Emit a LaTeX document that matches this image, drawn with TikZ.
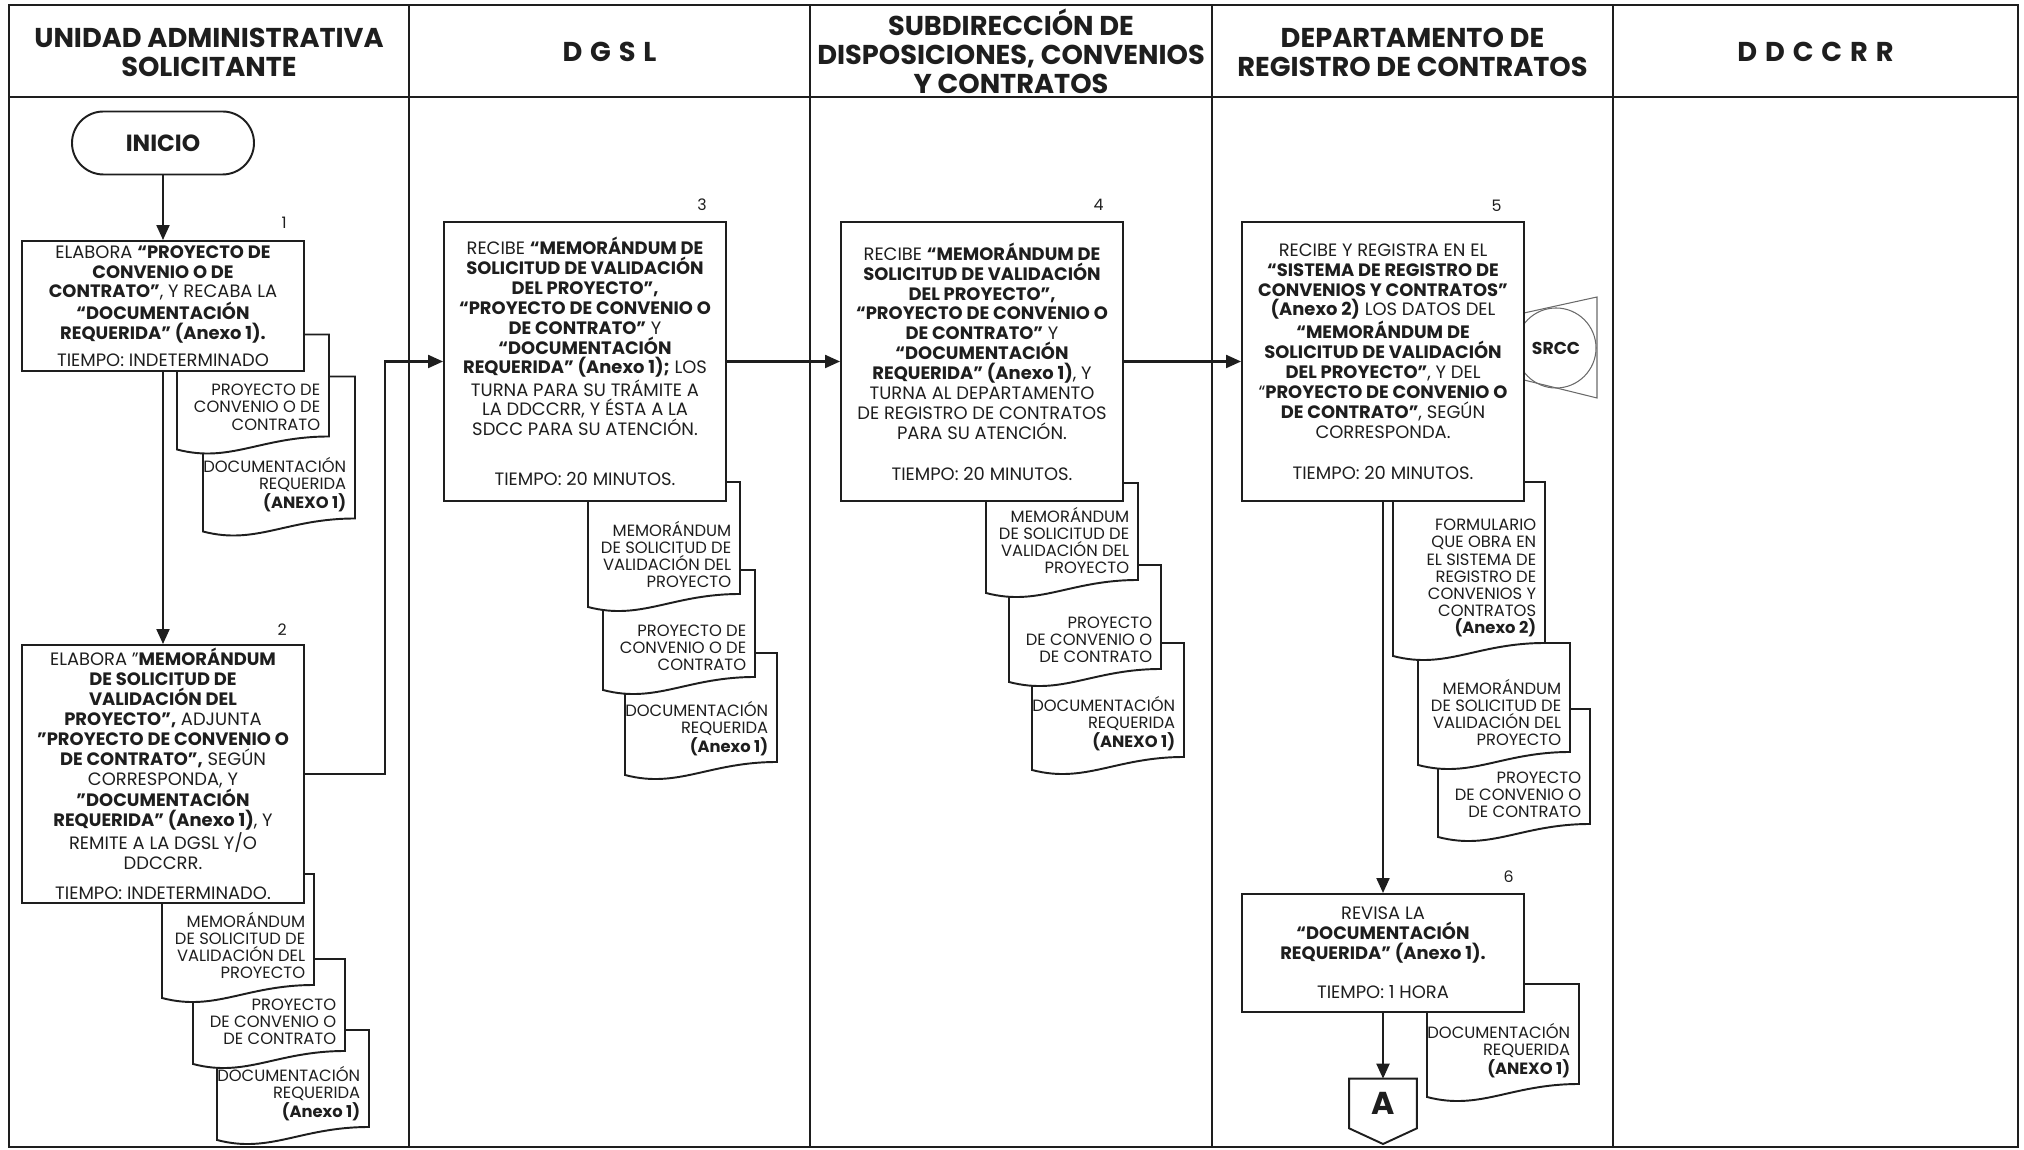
\documentclass[tikz,border=0pt]{standalone}
\usepackage{fontspec}
\setmainfont{Poppins}
\usetikzlibrary{arrows.meta,positioning}
\definecolor{tinta}{HTML}{1E1E1E}
\definecolor{trazo}{HTML}{6A6A6A}

\begin{document}
\begin{tikzpicture}[x=2cm, y=2cm,
  every node/.style={text=tinta},
  encab/.style={font=\fontsize{15.5}{16.5}\selectfont\bfseries, align=center},
  caja/.style={draw=tinta, line width=1.1pt, fill=white, align=center, inner sep=0pt, minimum width=5.64cm, font=\fontsize{10.2}{11.3}\selectfont},
  inicio/.style={draw=tinta, line width=1.1pt, fill=white, rounded corners=0.63cm, minimum width=3.64cm, minimum height=1.26cm, font=\fontsize{13.3}{15}\selectfont\bfseries},
  num/.style={inner sep=0pt, font=\fontsize{9}{10}\selectfont},
  docu/.style={draw=tinta, line width=1.1pt, fill=white},
  doctxt/.style={inner sep=0pt, align=right, font=\fontsize{9.3}{9.7}\selectfont},
  flecha/.style={draw=tinta, line width=1.2pt, -{Triangle[length=0.3cm,width=0.26cm]}},
  linea/.style={draw=tinta, line width=1.2pt},
  pics/hoja/.style n args={3}{code={
    \draw[docu] (0,0) -- (#1,0) -- (#1,-#2+0.13) .. controls (0.55*#1,-#2+0.13) and (0.35*#1,-#2-0.14) .. (0,-#2) -- cycle;
    \node[doctxt, anchor=south east] (-t) at (#1-0.085,-#2+0.19) {#3};
  }}
]
\useasboundingbox (0,0) rectangle (20.24,11.49);

% marco y carriles
\draw[linea] (0.09,0.02) rectangle (20.18,11.44);
\draw[linea] (0.09,10.52) -- (20.18,10.52);
\draw[linea] (4.09,0.02) -- (4.09,11.44) (8.10,0.02) -- (8.10,11.44) (12.12,0.02) -- (12.12,11.44) (16.13,0.02) -- (16.13,11.44);

\node[encab] (h1) at (2.09,10.97) {UNIDAD ADMINISTRATIVA\\SOLICITANTE};
\node[encab] (h2) at (6.095,10.97) {D\hspace{.29em}G\hspace{.29em}S\hspace{.29em}L};
\node[encab] (h3) at (10.11,10.975) {SUBDIRECCIÓN DE\\DISPOSICIONES, CONVENIOS\\Y CONTRATOS};
\node[encab] (h4) at (14.125,10.97) {DEPARTAMENTO DE\\REGISTRO DE CONTRATOS};
\node[encab] (h5) at (18.155,10.97) {D\hspace{.29em}D\hspace{.29em}C\hspace{.29em}C\hspace{.29em}R\hspace{.29em}R};

\node[inicio] (ini) at (1.63,10.06) {INICIO};

% paso 1
\pic (d1b) at (2.03,7.725) {hoja={1.52}{1.55}{DOCUMENTACIÓN\\REQUERIDA\\\textbf{(ANEXO 1)}}};
\pic (d1a) at (1.77,8.145) {hoja={1.52}{1.15}{PROYECTO DE\\CONVENIO O DE\\CONTRATO}};
\node[caja, minimum height=2.6cm] (b1) at (1.63,8.43) {ELABORA \textbf{“PROYECTO DE}\\\textbf{CONVENIO O DE}\\\textbf{CONTRATO”}, Y RECABA LA\\\textbf{“DOCUMENTACIÓN}\\\textbf{REQUERIDA” (Anexo 1).}\\[4pt]TIEMPO: INDETERMINADO};
\node[num, above left=0.22cm and 0.36cm of b1.north east] (n1) {1};

% paso 2
\pic (d2c) at (2.17,1.19) {hoja={1.52}{1.10}{DOCUMENTACIÓN\\REQUERIDA\\\textbf{(Anexo 1)}}};
\pic (d2b) at (1.93,1.90) {hoja={1.52}{1.05}{PROYECTO\\DE CONVENIO O\\DE CONTRATO}};
\pic (d2a) at (1.62,2.75) {hoja={1.52}{1.24}{MEMORÁNDUM\\DE SOLICITUD DE\\VALIDACIÓN DEL\\PROYECTO}};
\node[caja, minimum height=5.16cm] (b2) at (1.63,3.75) {ELABORA "\textbf{MEMORÁNDUM}\\\textbf{DE SOLICITUD DE}\\\textbf{VALIDACIÓN DEL}\\\textbf{PROYECTO",} ADJUNTA\\\textbf{"PROYECTO DE CONVENIO O}\\\textbf{DE CONTRATO",} SEGÚN\\CORRESPONDA, Y\\\textbf{"DOCUMENTACIÓN}\\\textbf{REQUERIDA" (Anexo 1)}, Y\\REMITE A LA DGSL Y/O\\DDCCRR.\\[6pt]TIEMPO: INDETERMINADO.};
\node[num, above left=0.16cm and 0.36cm of b2.north east] (n2) {2};

% paso 3
\pic (d3c) at (6.25,4.96) {hoja={1.52}{1.22}{DOCUMENTACIÓN\\REQUERIDA\\\textbf{(Anexo 1)}}};
\pic (d3b) at (6.03,5.79) {hoja={1.52}{1.20}{PROYECTO DE\\CONVENIO O DE\\CONTRATO}};
\pic (d3a) at (5.88,6.67) {hoja={1.52}{1.25}{MEMORÁNDUM\\DE SOLICITUD DE\\VALIDACIÓN DEL\\PROYECTO}};
\node[caja, minimum height=5.58cm] (b3) at (5.85,7.875) {RECIBE \textbf{“MEMORÁNDUM DE}\\\textbf{SOLICITUD DE VALIDACIÓN}\\\textbf{DEL PROYECTO”,}\\\textbf{“PROYECTO DE CONVENIO O}\\\textbf{DE CONTRATO”} Y\\\textbf{“DOCUMENTACIÓN}\\\textbf{REQUERIDA” (Anexo 1);} LOS\\TURNA PARA SU TRÁMITE A\\LA DDCCRR, Y ÉSTA A LA\\SDCC PARA SU ATENCIÓN.\\[17pt]TIEMPO: 20 MINUTOS.};
\node[num, above left=0.2cm and 0.4cm of b3.north east] (n3) {3};

% paso 4
\pic (d4c) at (10.32,5.06) {hoja={1.52}{1.27}{DOCUMENTACIÓN\\REQUERIDA\\\textbf{(ANEXO 1)}}};
\pic (d4b) at (10.09,5.84) {hoja={1.52}{1.17}{PROYECTO\\DE CONVENIO O\\DE CONTRATO}};
\pic (d4a) at (9.86,6.66) {hoja={1.52}{1.10}{MEMORÁNDUM\\DE SOLICITUD DE\\VALIDACIÓN DEL\\PROYECTO}};
\node[caja, minimum height=5.58cm] (b4) at (9.82,7.875) {RECIBE \textbf{“MEMORÁNDUM DE}\\\textbf{SOLICITUD DE VALIDACIÓN}\\\textbf{DEL PROYECTO”,}\\\textbf{“PROYECTO DE CONVENIO O}\\\textbf{DE CONTRATO”} Y\\\textbf{“DOCUMENTACIÓN}\\\textbf{REQUERIDA” (Anexo 1)}, Y\\TURNA AL DEPARTAMENTO\\DE REGISTRO DE CONTRATOS\\PARA SU ATENCIÓN.\\[12pt]TIEMPO: 20 MINUTOS.};
\node[num, above left=0.2cm and 0.4cm of b4.north east] (n4) {4};

% paso 5
\draw[trazo, line width=0.6pt] (15.24,8.36) -- (15.97,8.52) -- (15.97,7.51) -- (15.24,7.69);
\node[circle, draw=trazo, line width=0.6pt, minimum size=1.6cm, inner sep=0pt, font=\fontsize{9.8}{11}\selectfont\bfseries] (srcc) at (15.56,8.01) {SRCC};
\pic (d5c) at (14.38,4.40) {hoja={1.52}{1.28}{PROYECTO\\DE CONVENIO O\\DE CONTRATO}};
\pic (d5b) at (14.18,5.06) {hoja={1.52}{1.22}{MEMORÁNDUM\\DE SOLICITUD DE\\VALIDACIÓN DEL\\PROYECTO}};
\pic (d5a) at (13.93,6.67) {hoja={1.52}{1.74}{FORMULARIO\\QUE OBRA EN\\EL SISTEMA DE\\REGISTRO DE\\CONVENIOS Y\\CONTRATOS\\\textbf{(Anexo 2)}}};
\node[caja, minimum height=5.58cm] (b5) at (13.83,7.875) {RECIBE Y REGISTRA EN EL\\\textbf{“SISTEMA DE REGISTRO DE}\\\textbf{CONVENIOS Y CONTRATOS”}\\\textbf{(Anexo 2)} LOS DATOS DEL\\\textbf{“MEMORÁNDUM DE}\\\textbf{SOLICITUD DE VALIDACIÓN}\\\textbf{DEL PROYECTO”}, Y DEL\\“\textbf{PROYECTO DE CONVENIO O}\\\textbf{DE CONTRATO”}, SEGÚN\\CORRESPONDA.\\[12pt]TIEMPO: 20 MINUTOS.};
\node[num, above left=0.18cm and 0.46cm of b5.north east] (n5) {5};

% paso 6
\pic (d6a) at (14.27,1.65) {hoja={1.52}{1.13}{DOCUMENTACIÓN\\REQUERIDA\\\textbf{(ANEXO 1)}}};
\node[caja, minimum height=2.36cm] (b6) at (13.83,1.96) {REVISA LA\\\textbf{“DOCUMENTACIÓN}\\\textbf{REQUERIDA” (Anexo 1).}\\[11pt]TIEMPO: 1 HORA};
\node[num, above left=0.2cm and 0.22cm of b6.north east] (n6) {6};

\node[inner sep=0pt, minimum width=1.34cm, minimum height=0.98cm, font=\fontsize{18}{20}\selectfont\bfseries] (A) at (13.83,0.455) {A};
\coordinate (Apunta) at (13.83,0.05);
\draw[linea, line width=1.1pt] (A.north west) -- (A.north east) -- (A.south east) -- (Apunta) -- (A.south west) -- cycle;

% conectores
\coordinate (q1) at (3.85,7.875);
\draw[flecha] (ini) -- (b1);
\draw[flecha] (b1) -- (b2);
\draw[flecha] (b2.east) -| (q1) -- (b3);
\draw[flecha] (b3) -- (b4);
\draw[flecha] (b4) -- (b5);
\draw[flecha] (b5) -- (b6);
\draw[flecha] (b6) -- (A);

\end{tikzpicture}
\end{document}
